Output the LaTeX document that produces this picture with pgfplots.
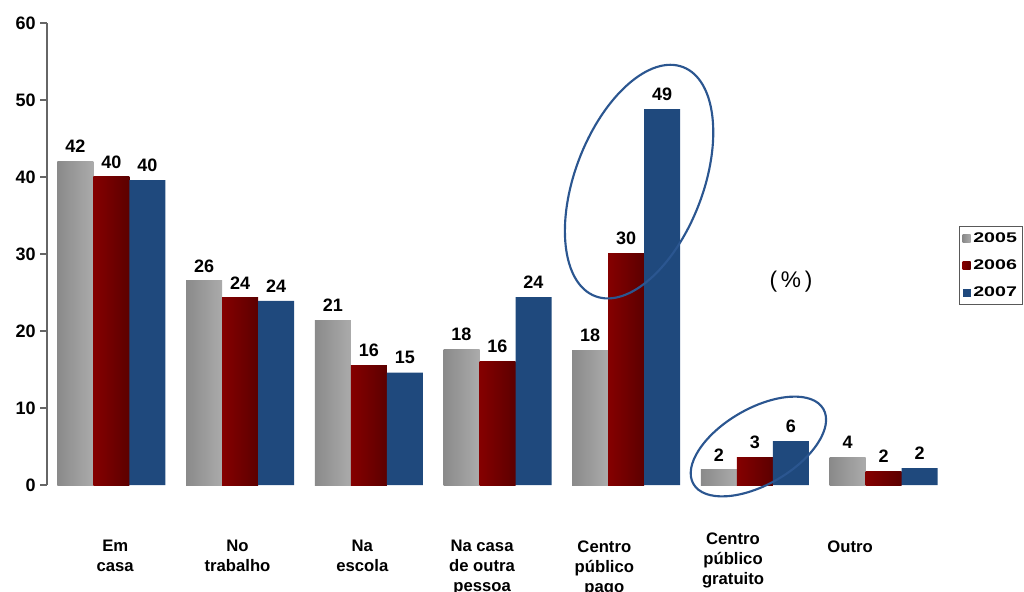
\documentclass[border=0pt]{standalone}
\usepackage{fontspec}
\setmainfont{Liberation Sans}
\newfontfamily\wide[FakeStretch=1.4]{Liberation Sans}
\usepackage{pgfplots}
\usepackage{pgfplotstable}
\pgfplotsset{compat=1.18}
\definecolor{gA}{HTML}{8A8A8A}
\definecolor{gB}{HTML}{C6C6C6}
\definecolor{gC}{HTML}{ABABAB}
\definecolor{rA}{HTML}{850000}
\definecolor{rB}{HTML}{5C0000}
\definecolor{bA}{HTML}{1F497D}
\definecolor{ell}{HTML}{2B5690}
\pgfplotstableread{
x a alab b blab c clab
0 42.0 42 40.0 40 39.6 40
1 26.5 26 24.3 24 23.9 24
2 21.4 21 15.5 16 14.6 15
3 17.6 18 16.1 16 24.4 24
4 17.5 18 30.1 30 48.8 49
5 1.95 2 3.6 3 5.7 6
6 3.6 4 1.8 2 2.2 2
}\data
\begin{document}
\begin{tikzpicture}
\path[use as bounding box] (-35.25pt,-80.25pt) rectangle (732.75pt,363.75pt);
\begin{axis}[
  at={(0,0)}, anchor=south west,
  scale only axis, width=675.75pt, height=346.5pt,
  clip=false,
  ybar=0pt, bar width=27pt,
  xmin=-0.5, xmax=6.5, ymin=0, ymax=60,
  ytick={0,10,...,60},
  xtick={0.03,0.98,1.95,2.88,3.83,5.74},
  xticklabels={{Em\\casa},{No\\trabalho},{Na\\escola},{Na casa\\de outra\\pessoa},{Centro\\público\\pago},{Outro}},
  extra x ticks={4.83},
  extra x tick labels={{Centro\\público\\gratuito}},
  extra x tick style={xticklabel style={yshift=6pt}},
  xticklabel style={align=center, anchor=north, yshift=-33pt, font=\bfseries\fontsize{12.5}{15}\selectfont},
  yticklabel style={font=\bfseries\fontsize{13.5}{15}\selectfont},
  /pgf/number format/assume math mode=true,
  axis lines*=left,
  x axis line style={draw=none},
  y axis line style={draw=gray!80!black, line width=1pt},
  xtick style={draw=none},
  ytick style={draw=gray!80!black, line width=1pt},
  tick align=outside, major tick length=5pt,
  nodes near coords,
  point meta=explicit symbolic,
  every node near coord/.append style={font=\bfseries\fontsize{13.5}{15}\selectfont, yshift=3pt, text=black},
  legend style={at={(rel axis cs:1.012,0.56)}, anchor=north west, draw=gray!70!black, line width=0.8pt,
     font=\wide\bfseries\fontsize{10.5}{12}\selectfont, row sep=7.5pt, inner sep=2.5pt, cells={anchor=west}},
  legend image code/.code={\path[#1, draw=none] (0pt,-3pt) rectangle (6pt,3pt);},
]
\addlegendimage{draw=none, left color=gA, middle color=gB, right color=gC}
\addlegendimage{draw=none, left color=rA, right color=rB}
\addlegendimage{draw=none, fill=bA}
\legend{2005,2006,2007}
\pgfplotsinvokeforeach{0,...,6}{
  \addplot[draw=none, left color=gA, middle color=gB, right color=gC, bar shift=-27pt, forget plot,
    restrict x to domain=#1:#1] table[x=x, y=a, meta=alab] {\data};
  \addplot[draw=none, left color=rA, right color=rB, bar shift=0pt, forget plot,
    restrict x to domain=#1:#1] table[x=x, y=b, meta=blab] {\data};
}
\addplot[draw=none, fill=bA, bar shift=27pt, forget plot] table[x=x, y=c, meta=clab] {\data};
\node[font=\fontsize{17}{19}\selectfont] at (axis cs:5.28,26.4) {(\,\%\,)};
\draw[ell, line width=1.6pt, rotate around={-21:(axis cs:4.1,39.4)}] (axis cs:4.1,39.4) ellipse (48pt and 92pt);
\draw[ell, line width=1.6pt, rotate around={30:(axis cs:5.027,5.0)}] (axis cs:5.027,5.0) ellipse (56.25pt and 28.5pt);
\end{axis}
\end{tikzpicture}
\end{document}
